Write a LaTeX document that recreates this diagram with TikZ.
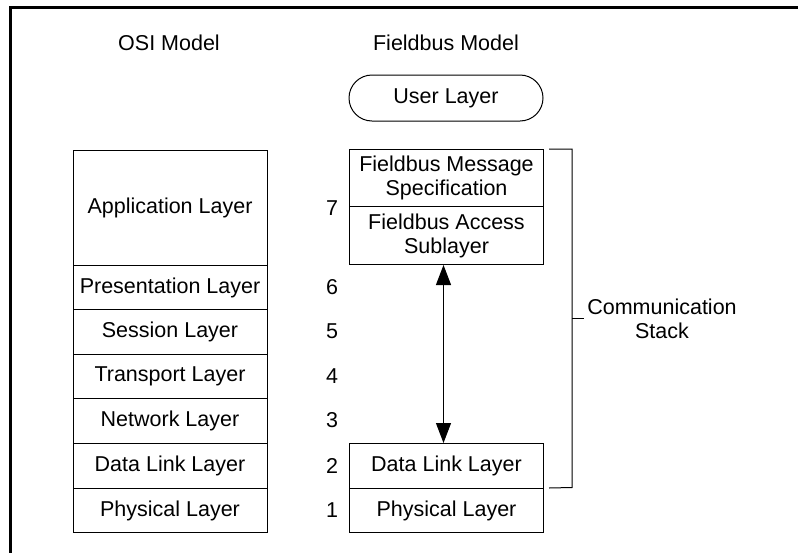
\documentclass[tikz,border=0pt]{standalone}
\usepackage{fontspec}
\setmainfont{Liberation Sans}
\usetikzlibrary{arrows.meta,calc}
\begin{document}
\begin{tikzpicture}[x=1pt,y=-1pt,
  every node/.style={font=\fontsize{21.5pt}{24pt}\selectfont, inner sep=0pt},
  layer/.style={draw, line width=1pt, minimum width=194pt, anchor=north},
  lbl/.style={anchor=center},
  link/.style={line width=1pt},
  tip/.style={{Triangle[length=20pt,width=15pt]}-{Triangle[length=20pt,width=15pt]}}
]
\useasboundingbox (0,0) rectangle (798,552);
\draw[line width=2.8pt] (10.5,560) -- (10.5,7.5) -- (806,7.5);

% titles
\node[lbl] (osit) at (169,43) {OSI Model};
\node[lbl] (fbt) at (446,43) {Fieldbus Model};

% OSI stack
\node[layer, minimum height=115pt] (app) at (170,150) {Application Layer};
\node[layer, minimum height=44pt] (pres) at (170,265) {Presentation Layer};
\node[layer, minimum height=45pt] (sess) at (170,309) {Session Layer};
\node[layer, minimum height=44pt] (trans) at (170,354) {Transport Layer};
\node[layer, minimum height=45pt] (net) at (170,398) {Network Layer};
\node[layer, minimum height=45pt] (dl) at (170,443) {Data Link Layer};
\node[layer, minimum height=44pt] (phy) at (170,488) {Physical Layer};

% numbers
\node[lbl] (n7) at (332,208) {7};
\node[lbl] (n6) at (332,287) {6};
\node[lbl] (n5) at (332,331.5) {5};
\node[lbl] (n4) at (332,376) {4};
\node[lbl] (n3) at (332,420.5) {3};
\node[lbl] (n2) at (332,465.5) {2};
\node[lbl] (n1) at (332,510) {1};

% Fieldbus stack
\node[draw, line width=1pt, rounded corners=23pt, minimum width=194pt, minimum height=46pt] (user) at (446,98) {User Layer};
\node[layer, minimum height=57pt, align=center] (fms) at (446.5,149) {Fieldbus Message\\Specification};
\node[layer, minimum height=58pt, align=center] (fas) at (446.5,206) {Fieldbus Access\\Sublayer};
\node[layer, minimum height=45pt] (fdl) at (446.5,443) {Data Link Layer};
\node[layer, minimum height=44pt] (fphy) at (446.5,488) {Physical Layer};

\draw[link, tip] ([xshift=-3pt]fas.south) -- ([xshift=-3pt]fdl.north);

% bracket
\node[lbl, align=center] (cs) at (662,319) {Communication\\Stack};
\coordinate (bt) at (572,149);
\coordinate (bb) at (572,487.5);
\coordinate (bm) at (572,318);
\draw[link] ($(fms.north east)+(5,0)$) -- (bt) -- (bb) -- ($(fphy.north east)+(5,0)$);
\draw[link] (bm) -- ($(cs.west |- bm)+(-3,0)$);
\end{tikzpicture}
\end{document}
